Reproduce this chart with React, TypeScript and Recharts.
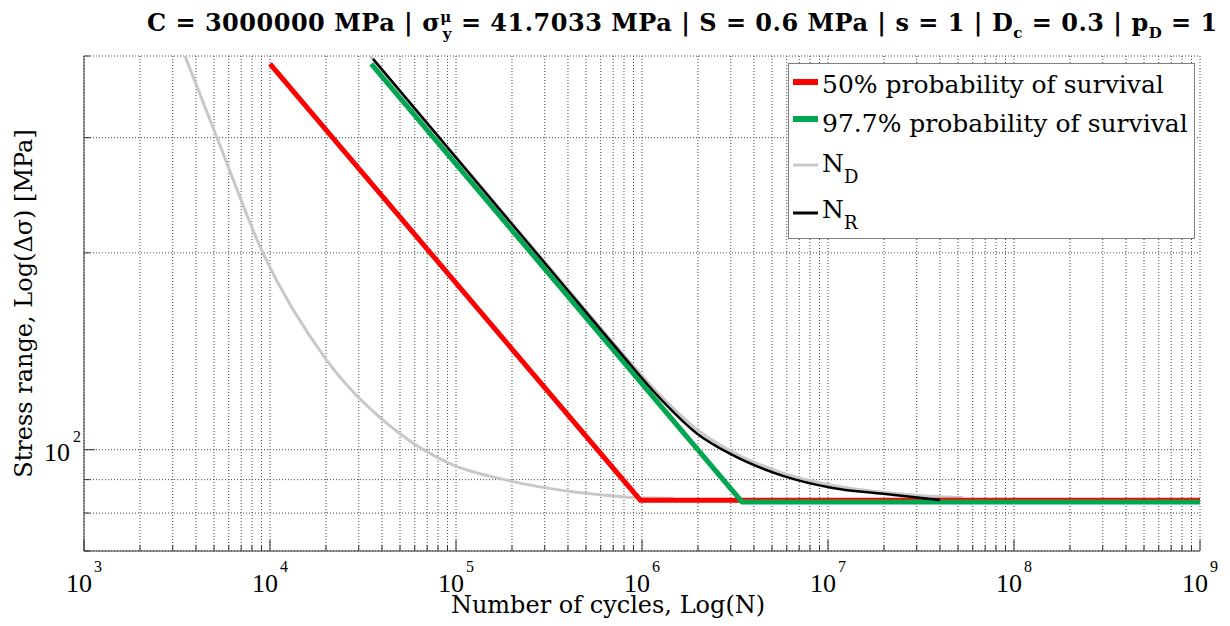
import React from 'react';
import { LineChart, Line, XAxis, YAxis, CartesianGrid, Legend } from 'recharts';

// ---------------- data ----------------
const red50N = [10000, 980000, 1000000000];
const red50S = [389, 83.7, 83.7];

const green977N = [35000, 3450000, 1000000000];
const green977S = [389, 83.2, 83.2];

const nd1N = [3490, 5190, 9160, 20200, 50000, 92900, 195000, 594000, 975000, 1470000];
const nd1S = [400, 300, 200, 137, 105.8, 95.2, 89.6, 85.3, 84.4, 84.3];

const nd2N = [34500, 362000, 762000, 1250000, 1980000, 2970000, 5730000, 10600000, 19800000, 35000000, 53000000];
const nd2S = [400, 182, 141.8, 121.2, 107.3, 99.7, 92.1, 88.2, 86.1, 84.9, 84.5];

const nrN = [35800, 362000, 762000, 1250000, 1980000, 2970000, 5730000, 10600000, 19800000, 40000000];
const nrS = [396, 181.1, 140.9, 119.8, 105.8, 98.6, 91.2, 87.4, 85.6, 83.8];

const xDecades = [3, 4, 5, 6, 7, 8, 9];
const xMinorMults = [1, 2, 3, 4, 5, 6, 7, 8, 9];
const yTicks = [70, 80, 90, 100, 200, 300, 400];
const yLabelled = [100];

const legendLabels = ['50% probability of survival', '97.7% probability of survival', 'N', 'N'];
const legendSubs = ['', '', 'D', 'R'];
const legendColors = ['#ff0000', '#00a650', '#c8c8c8', '#000000'];
const legendWidths = [6, 6, 3, 3];

// ---------------- helpers ----------------
const toPts = (ns: number[], ss: number[]) => ns.map((n, i) => ({ n, s: ss[i] }));
const red50 = toPts(red50N, red50S);
const green977 = toPts(green977N, green977S);
const nd1 = toPts(nd1N, nd1S);
const nd2 = toPts(nd2N, nd2S);
const nr = toPts(nrN, nrS);

const xTicks: number[] = [];
xDecades.slice(0, -1).forEach((d) => xMinorMults.forEach((k) => xTicks.push(k * Math.pow(10, d))));
xTicks.push(Math.pow(10, xDecades[xDecades.length - 1]));

const isDecade = (v: number) => Math.abs(Math.log10(v) - Math.round(Math.log10(v))) < 1e-9;

const SERIF = '"DejaVu Serif", serif';
const NUM = '"Liberation Serif", serif';
const AXIS = '#333333';
const MAJ = 11;
const MIN = 6;

const XTickBottom = (p: any) => {
  const v = p.payload.value;
  const major = isDecade(v);
  return (
    <g>
      <line x1={p.x} y1={p.y} x2={p.x} y2={p.y - (major ? MAJ : MIN)} stroke={AXIS} strokeWidth={1} />
      {major && (
        <>
          <text x={p.x + 8} y={p.y + 41} textAnchor="end" fontFamily={NUM} fontSize={26} fill="#000">10</text>
          <text x={p.x + 10} y={p.y + 21} textAnchor="start" fontFamily={NUM} fontSize={16} fill="#000">
            {Math.round(Math.log10(v))}
          </text>
        </>
      )}
    </g>
  );
};

const XTickTop = (p: any) => {
  const v = p.payload.value;
  const major = isDecade(v);
  return <line x1={p.x} y1={p.y} x2={p.x} y2={p.y + (major ? MAJ : MIN)} stroke={AXIS} strokeWidth={1} />;
};

const YTickLeft = (p: any) => {
  const v = p.payload.value;
  const major = yLabelled.includes(v);
  return (
    <g>
      <line x1={p.x} y1={p.y} x2={p.x + (major ? MAJ : MIN)} y2={p.y} stroke={AXIS} strokeWidth={1} />
      {major && (
        <>
          <text x={p.x - 14} y={p.y + 11} textAnchor="end" fontFamily={NUM} fontSize={26} fill="#000">10</text>
          <text x={p.x - 11} y={p.y - 8} textAnchor="start" fontFamily={NUM} fontSize={16} fill="#000">
            {Math.round(Math.log10(v))}
          </text>
        </>
      )}
    </g>
  );
};

const YTickRight = (p: any) => {
  const v = p.payload.value;
  const major = yLabelled.includes(v);
  return <line x1={p.x} y1={p.y} x2={p.x - (major ? MAJ : MIN)} y2={p.y} stroke={AXIS} strokeWidth={1} />;
};

const LegendBox = () => {
  const rowsLine = [19, 56, 102, 150];
  const rowsText = [30, 69, 109, 155];
  return (
    <svg width={407} height={176} style={{ display: 'block' }}>
      <rect x={0.5} y={0.5} width={406} height={175} fill="#fff" stroke="#808080" strokeWidth={1} />
      {legendLabels.map((lab, i) => (
        <g key={i}>
          <line x1={5} y1={rowsLine[i]} x2={30} y2={rowsLine[i]} stroke={legendColors[i]} strokeWidth={legendWidths[i]} />
          <text x={34} y={rowsText[i]} fontFamily={SERIF} fontSize={25} fill="#000">
            {lab}
            {legendSubs[i] && (
              <tspan fontSize={18} dy={11}>{legendSubs[i]}</tspan>
            )}
          </text>
        </g>
      ))}
    </svg>
  );
};

export default function App() {
  return (
    <div style={{ position: 'relative', width: 1214, height: 610 }}>
      <LineChart width={1214} height={610} margin={{ top: 48, right: 22, bottom: 0, left: 0 }}>
        <CartesianGrid stroke="#444" strokeDasharray="1 2" strokeWidth={1} />
        <XAxis
          dataKey="n"
          type="number"
          scale="log"
          domain={[1000, 1000000000]}
          allowDataOverflow
          ticks={xTicks}
          interval={0}
          height={67}
          tickSize={0}
          tickMargin={0}
          tickLine={false}
          axisLine={{ stroke: AXIS }}
          tick={(p: any) => <XTickBottom {...p} />}
        />
        <XAxis
          xAxisId="top"
          orientation="top"
          dataKey="n"
          type="number"
          scale="log"
          domain={[1000, 1000000000]}
          allowDataOverflow
          ticks={xTicks}
          interval={0}
          height={0}
          tickSize={0}
          tickMargin={0}
          tickLine={false}
          axisLine={{ stroke: AXIS }}
          tick={(p: any) => <XTickTop {...p} />}
        />
        <YAxis
          type="number"
          scale="log"
          domain={[70, 400]}
          allowDataOverflow
          ticks={yTicks}
          interval={0}
          width={76}
          tickSize={0}
          tickMargin={0}
          tickLine={false}
          axisLine={{ stroke: AXIS }}
          tick={(p: any) => <YTickLeft {...p} />}
          label={(props: any) => {
            const vb = props.viewBox || {};
            const cy = (vb.y || 48) + (vb.height || 495) / 2;
            return (
              <text
                x={24}
                y={cy}
                transform={`rotate(-90 24 ${cy})`}
                textAnchor="middle"
                fontFamily={SERIF}
                fontSize={24}
                fill="#000"
              >
                Stress range, Log(Δσ) [MPa]
              </text>
            );
          }}
        />
        <YAxis
          yAxisId="right"
          orientation="right"
          type="number"
          scale="log"
          domain={[70, 400]}
          allowDataOverflow
          ticks={yTicks}
          interval={0}
          width={0}
          tickSize={0}
          tickMargin={0}
          tickLine={false}
          axisLine={{ stroke: AXIS }}
          tick={(p: any) => <YTickRight {...p} />}
        />
        <Legend
          layout="vertical"
          align="center"
          verticalAlign="middle"
          wrapperStyle={{ position: 'absolute', left: 780, top: 55, width: 407, height: 176 }}
          content={() => <LegendBox />}
        />
        <Line data={nd1} dataKey="s" type="monotone" stroke="#c8c8c8" strokeWidth={3} dot={false} isAnimationActive={false} legendType="none" />
        <Line data={nd2} dataKey="s" type="monotone" stroke="#c8c8c8" strokeWidth={3} dot={false} isAnimationActive={false} legendType="none" />
        <Line data={red50} dataKey="s" type="linear" stroke="#ff0000" strokeWidth={5} dot={false} isAnimationActive={false} />
        <Line data={green977} dataKey="s" type="linear" stroke="#00a650" strokeWidth={5} dot={false} isAnimationActive={false} />
        <Line data={nr} dataKey="s" type="monotone" stroke="#000000" strokeWidth={2.5} dot={false} isAnimationActive={false} />
      </LineChart>
      <svg width={1214} height={618} style={{ position: 'absolute', left: 0, top: 0, pointerEvents: 'none', overflow: 'visible' }}>
        <text x={139} y={23} textAnchor="start" fontFamily={SERIF} fontWeight="bold" fontSize={24} letterSpacing={0.5} fill="#000">
          C = 3000000 MPa | σ
          <tspan fontSize={15} dy={-9}>μ</tspan>
          <tspan fontSize={15} dx={-9} dy={17}>y</tspan>
          <tspan dy={-8}> = 41.7033 MPa | S = 0.6 MPa | s = 1 | D</tspan>
          <tspan fontSize={15} dy={7}>c</tspan>
          <tspan dy={-7}> = 0.3 | p</tspan>
          <tspan fontSize={15} dy={7}>D</tspan>
          <tspan dy={-7}> = 1</tspan>
        </text>
        <text x={600} y={605} textAnchor="middle" fontFamily={SERIF} fontSize={24} fill="#000">
          Number of cycles, Log(N)
        </text>
      </svg>
    </div>
  );
}
